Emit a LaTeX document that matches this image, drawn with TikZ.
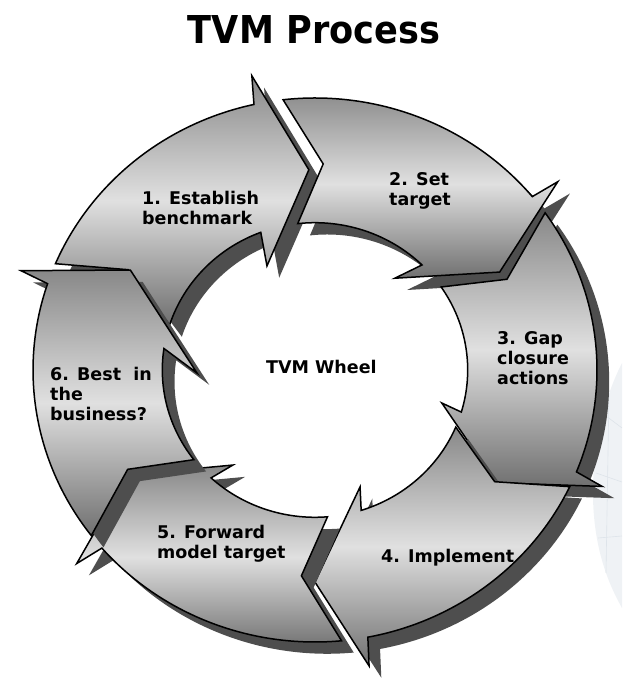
\documentclass[tikz,border=0pt]{standalone}
\usepackage{fontspec}
\setmainfont{DejaVu Sans}
\definecolor{segtop}{RGB}{136,136,136}
\definecolor{segmid}{RGB}{224,224,224}
\definecolor{segbot}{RGB}{112,112,112}
\definecolor{segshade}{RGB}{78,78,78}
\definecolor{bgtint}{RGB}{239,242,245}
\definecolor{bgline}{RGB}{222,228,234}

% One ring segment: #1 tip angle, #2 tip radius, #3 tail angle (outer),
% #4 tail angle (inner), #5 inner edge end offset, #6 inner barb offset,
% #7 inner barb radius. Outer radius 277, inner radius 150.
\newcommand{\ringpath}[7]{%
  (#3:277) arc[start angle=#3, end angle={#1+10.8}, radius=277]
  -- ({#1+10}:306) -- (#1:#2) -- ({#1+#6}:#7) -- ({#1+#5}:150)
  arc[start angle={#1+#5}, end angle=#4, radius=150]
  -- ({(#3+#4)/2-8.7}:210) -- cycle}

\begin{document}
\begin{tikzpicture}[x=1pt,y=1pt,
  lbl/.style={font=\fontsize{17.5}{20}\selectfont\bfseries, align=left,
              inner sep=0pt, text=black},
  segbody/.style={draw=black, line width=1.5pt, line join=miter,
                  top color=segtop, bottom color=segbot, middle color=segmid},
  segshadow/.style={fill=segshade, draw=none, shift={(12,-12)}}]
\useasboundingbox (0,0) rectangle (622,688);

% faint backdrop at the right edge
\fill[bgtint] (622,325) .. controls (604,290) and (592,240) .. (593,190)
  .. controls (594,145) and (605,110) .. (622,80) -- cycle;
\draw[bgline, line width=0.6pt] (602,275) -- (622,260);
\draw[bgline, line width=0.6pt] (596,215) -- (622,206);
\draw[bgline, line width=0.6pt] (598,150) -- (622,152);
\draw[bgline, line width=0.6pt] (609,295) -- (606,115);

% title
\node (title) at (314,658)
  {\scalebox{0.915}[1]{\fontsize{38.4}{40}\selectfont\bfseries TVM Process}};

% the wheel
\begin{scope}[shift={(315,318)}, xscale=1.018, yscale=0.982]
  \fill[segshadow] \ringpath{91.7}{204}{157}{162.2}{19.1}{22.3}{116};
  \path[segbody]   \ringpath{91.7}{204}{157}{162.2}{19.1}{22.3}{116};
  \fill[segshadow] \ringpath{28.8}{207}{96.5}{96.5}{16.7}{21.2}{122};
  \path[segbody]   \ringpath{28.8}{207}{96.5}{96.5}{16.7}{21.2}{122};
  \fill[segshadow] \ringpath{-32.8}{212}{35.3}{34.3}{16.2}{17.7}{129};
  \path[segbody]   \ringpath{-32.8}{212}{35.3}{34.3}{16.2}{17.7}{129};
  \fill[segshadow] \ringpath{-90}{216}{-25.4}{-22.8}{17.6}{20.4}{127};
  \path[segbody]   \ringpath{-90}{216}{-25.4}{-22.8}{17.6}{20.4}{127};
  \fill[segshadow] \ringpath{-149.9}{213}{-84.6}{-85.3}{17.0}{20.1}{126};
  \path[segbody]   \ringpath{-149.9}{213}{-84.6}{-85.3}{17.0}{20.1}{126};
  \fill[segshadow] \ringpath{150.7}{208}{217.5}{217.5}{20.9}{30.8}{116};
  \path[segbody]   \ringpath{150.7}{208}{217.5}{217.5}{20.9}{30.8}{116};
\end{scope}

% labels
\node[lbl, anchor=north west] (l1) at (142,497.3) {1. Establish\\benchmark};
\node[lbl, anchor=north west] (l2) at (389,515.8) {2. Set\\target};
\node[lbl, anchor=north west] (l3) at (497,356.8) {3. Gap\\closure\\actions};
\node[lbl, anchor=base west]  (l4) at (381,125) {4. Implement};
\node[lbl, anchor=north west] (l5) at (157,163.3) {5. Forward\\model target};
\node[lbl, anchor=north west] (l6) at (50,321.3) {6. Best\ \ in\\the\\business?};
\node[lbl, anchor=base west]  (hub) at (266,314) {TVM Wheel};
\end{tikzpicture}
\end{document}
